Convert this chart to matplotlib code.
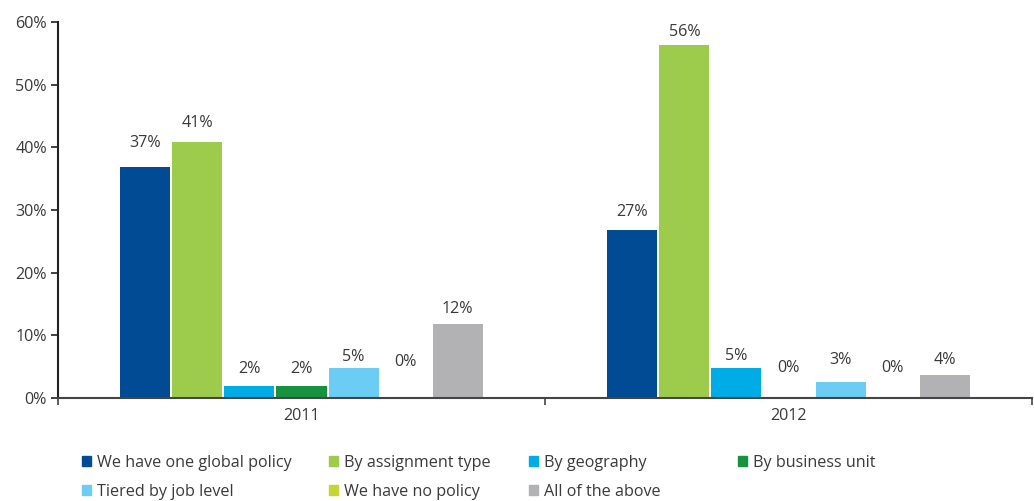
import numpy as np
import matplotlib
matplotlib.use('Agg')
import matplotlib.pyplot as plt
from matplotlib.patches import Patch

# ─────────────────────────────────────────────────────────────────────
# Data
# ─────────────────────────────────────────────────────────────────────
years = ['2011', '2012']
series = ['We have one global policy', 'By assignment type', 'By geography',
          'By business unit', 'Tiered by job level', 'We have no policy',
          'All of the above']
values_2011 = [36.8, 40.8, 1.9, 1.9, 4.8, 0.0, 11.8]
values_2012 = [26.8, 56.3, 4.8, 0.0, 2.6, 0.0, 3.7]
labels_2011 = ['37%', '41%', '2%', '2%', '5%', '0%', '12%']
labels_2012 = ['27%', '56%', '5%', '0%', '3%', '0%', '4%']

colors = ['#004B94', '#9DCB4B', '#00ACE6', '#17933F',
          '#6BCDF3', '#C4D631', '#B2B2B4']

# label offsets above bar tops (pixels), as Excel placed them
offsets_2011 = [24, 19, 17, 17, 11, 36, 15]
offsets_2012 = [18, 13, 12, 30, 22, 30, 15]

plt.rcParams['font.family'] = ['Open Sans', 'DejaVu Sans']
text_color = '#3a3a3a'
fs = 11.6

fig = plt.figure(figsize=(10.34, 5.01), dpi=100)
ax = fig.add_axes([58 / 1034, 1 - 398 / 501, 974 / 1034, 376 / 501])

slot = 0.1068
width = 0.1027
n = len(series)
centers = np.array([0.5, 1.5])

all_vals = np.array([values_2011, values_2012])
all_labels = [labels_2011, labels_2012]
all_offs = [offsets_2011, offsets_2012]

for i in range(n):
    xs = centers + (i - (n - 1) / 2) * slot
    ax.bar(xs, all_vals[:, i], width=width, color=colors[i], zorder=2)
    for g in range(2):
        ax.annotate(all_labels[g][i], (xs[g], all_vals[g, i]),
                    xytext=(0, all_offs[g][i] * 0.72), textcoords='offset points',
                    ha='center', va='center', fontsize=fs, color=text_color)

ax.set_xlim(0, 2)
ax.set_ylim(0, 60)
ax.set_yticks(np.arange(0, 61, 10))
ax.set_yticklabels([f'{v}%' for v in range(0, 61, 10)])
ax.set_xticks([0, 1, 2])
ax.set_xticklabels([])
ax.set_xticks(centers, minor=True)
ax.set_xticklabels(years, minor=True)
ax.tick_params(axis='x', which='minor', length=0, pad=7, labelsize=fs,
               labelcolor=text_color)
ax.tick_params(axis='x', which='major', length=5, width=1.2, color='#444444')
ax.tick_params(axis='y', length=5, width=1.2, color='#222222', labelsize=fs,
               labelcolor=text_color, pad=3)

for side in ['top', 'right']:
    ax.spines[side].set_visible(False)
ax.spines['left'].set_linewidth(1.5)
ax.spines['left'].set_color('#222222')
ax.spines['bottom'].set_linewidth(1.5)
ax.spines['bottom'].set_color('#444444')

# legend: two rows, four columns with uneven spacing -> one legend per column
handles = [Patch(color=c) for c in colors]
columns = [[0, 4], [1, 5], [2, 6], [3]]
col_x = [82, 329, 529, 738]
for idx, x0 in zip(columns, col_x):
    fig.legend([handles[k] for k in idx], [series[k] for k in idx],
               loc='upper left', bbox_to_anchor=(x0 / 1034, 1 - 455 / 501),
               frameon=False, fontsize=fs, handlelength=0.58,
               handleheight=0.58, handletextpad=0.35, labelspacing=0.8,
               borderpad=0, borderaxespad=0, labelcolor=text_color)

plt.savefig('out.png', dpi=100)
